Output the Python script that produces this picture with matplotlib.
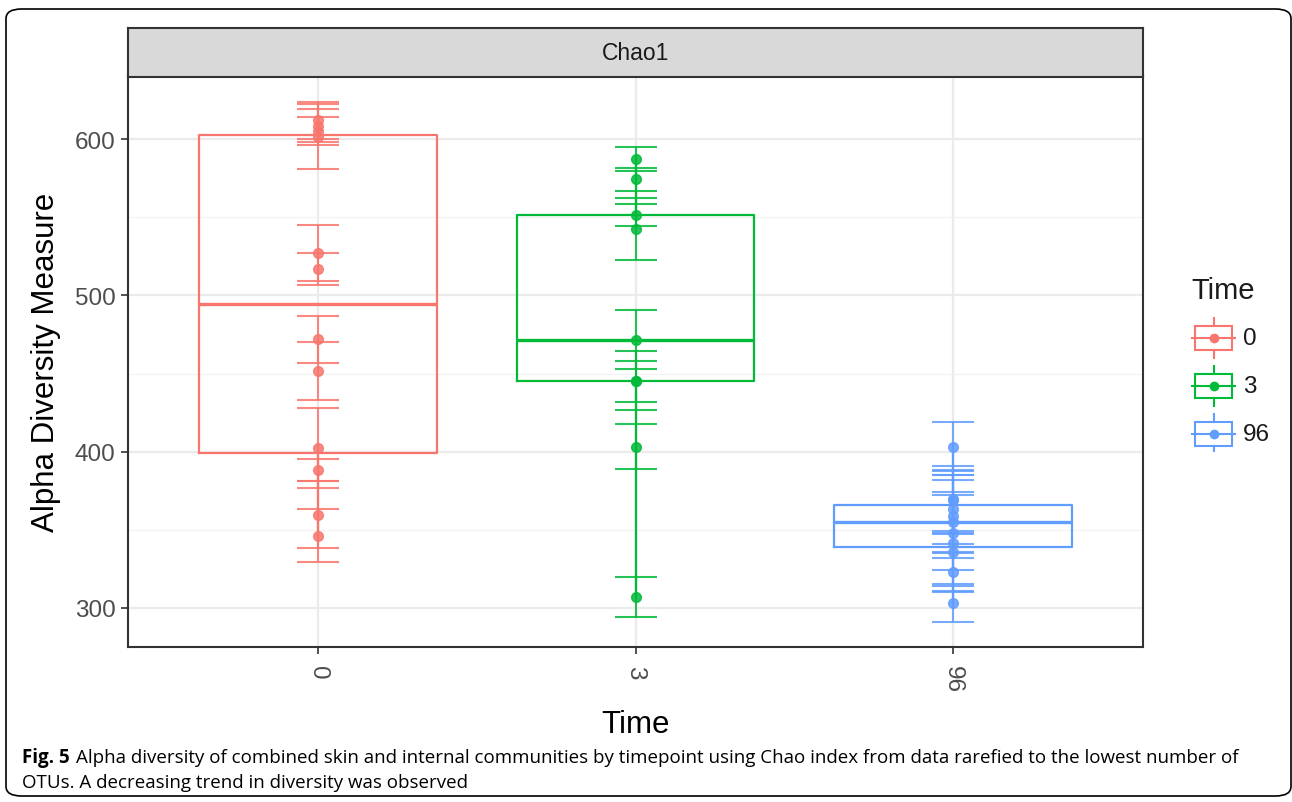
import numpy as np
import matplotlib
matplotlib.use('Agg')
import matplotlib.pyplot as plt
from matplotlib.patches import FancyBboxPatch, Rectangle
from matplotlib.lines import Line2D

plt.rcParams['font.family'] = ['Liberation Sans', 'DejaVu Sans']

# Chao1 estimates per sample and their standard errors, by timepoint
times = ['0', '3', '96']
chao_t0 = [346.3, 359.7, 388.5, 402.5, 451.5, 472.0, 517.0, 527.3, 601.6, 605.0, 608.5, 612.0]
se_t0 = [17.0, 21.3, 7.0, 25.6, 18.5, 15.0, 10.3, 17.9, 20.8, 9.0, 10.5, 12.0]
chao_t3 = [307.0, 403.0, 445.0, 445.5, 471.6, 542.7, 551.3, 574.2, 587.4]
se_t3 = [12.6, 14.4, 13.3, 18.7, 19.0, 19.9, 7.2, 7.5, 7.8]
chao_t96 = [303.2, 322.9, 336.0, 341.5, 348.0, 354.8, 359.0, 363.0, 368.8, 369.5, 403.2]
se_t96 = [12.0, 9.0, 11.5, 31.0, 37.0, 19.5, 23.0, 22.0, 19.5, 21.5, 15.5]

values = [chao_t0, chao_t3, chao_t96]
errors = [se_t0, se_t3, se_t96]
colors = ['#F8766D', '#00BA38', '#619CFF']

fig = plt.figure(figsize=(12.92, 8.03), dpi=100)

# journal figure frame
frame = FancyBboxPatch((6 / 1292, 6 / 803), 1285 / 1292, 787 / 803,
                       boxstyle='round,pad=0,rounding_size=0.012',
                       transform=fig.transFigure, fill=False,
                       edgecolor='black', linewidth=1.2)
fig.patches.append(frame)

ax = fig.add_axes([128 / 1292, 155 / 803, 1015 / 1292, 572 / 803])

pos = np.arange(1, len(times) + 1)
for i, (v, e, c) in enumerate(zip(values, errors, colors)):
    x = np.full(len(v), pos[i])
    ax.errorbar(x, v, yerr=e, fmt='o', color=c, ecolor=c, elinewidth=1.5,
                capsize=15, capthick=1.5, markersize=7, alpha=0.85, zorder=3)
    ax.boxplot([v], positions=[pos[i]], widths=0.75, whis=1.5,
               showcaps=False, showfliers=False, patch_artist=False,
               boxprops=dict(color=c, linewidth=1.6),
               whiskerprops=dict(color=c, linewidth=1.6),
               medianprops=dict(color=c, linewidth=2.4),
               manage_ticks=False, zorder=4)

ax.set_xlim(0.4, 3.6)
ax.set_ylim(275, 641)
ax.set_xticks(pos)
ax.set_xticklabels(times, rotation=-90)
ax.set_yticks([300, 400, 500, 600])
ax.set_yticks([350, 450, 550], minor=True)
ax.grid(True, which='major', color='#EBEBEB', linewidth=1.6, zorder=0)
ax.grid(True, which='minor', axis='y', color='#F2F2F2', linewidth=0.9, zorder=0)
ax.set_axisbelow(True)
ax.tick_params(axis='both', which='major', length=5, width=1.2, color='#333333',
               labelsize=17.5, labelcolor='#4D4D4D', pad=4)
ax.tick_params(axis='x', which='major', pad=8)
ax.tick_params(axis='y', which='minor', length=0)
for s in ax.spines.values():
    s.set_color('#333333')
    s.set_linewidth(1.5)
ax.set_ylabel('Alpha Diversity Measure', fontsize=22.5, labelpad=10)
ax.set_xlabel('Time', fontsize=22.5, labelpad=12)

# facet strip
strip = fig.add_axes([128 / 1292, 725 / 803, 1015 / 1292, 49 / 803])
strip.set_facecolor('#D9D9D9')
strip.set_xticks([])
strip.set_yticks([])
for s in strip.spines.values():
    s.set_color('#333333')
    s.set_linewidth(1.5)
strip.text(0.5, 0.5, 'Chao1', ha='center', va='center', fontsize=16.5,
           color='#1A1A1A', transform=strip.transAxes)

# legend drawn as ggplot-style keys
lg = fig.add_axes([1160 / 1292, 350 / 803, 130 / 1292, 180 / 803])
lg.set_xlim(0, 130)
lg.set_ylim(180, 0)
lg.axis('off')
lg.text(31, 18, 'Time', fontsize=21, va='center', ha='left', color='#1A1A1A')
for k, (t, c) in enumerate(zip(times, colors)):
    yc = 66 + k * 48
    lg.add_patch(Rectangle((35, yc - 12), 37, 24, fill=False, edgecolor=c, linewidth=1.5))
    lg.add_line(Line2D([53.5, 53.5], [yc - 20, yc - 12], color=c, linewidth=1.5))
    lg.add_line(Line2D([53.5, 53.5], [yc + 12, yc + 20], color=c, linewidth=1.5))
    lg.add_line(Line2D([32, 75], [yc, yc], color=c, linewidth=1.5))
    lg.plot([53.5], [yc], 'o', color=c, markersize=6)
    lg.text(83, yc, t, fontsize=17.5, va='center', ha='left', color='#1A1A1A')

# caption: bold label then the rest placed right after it
cap_y = 1 - 758 / 803
lab = fig.text(22 / 1292, cap_y, 'Fig. 5', fontsize=13.5, va='center',
               family='Open Sans', weight='bold')
fig.canvas.draw()
bb = lab.get_window_extent()
fig.text((bb.x1 + 6) / 1292, cap_y,
         'Alpha diversity of combined skin and internal communities by timepoint using Chao index from data rarefied to the lowest number of',
         fontsize=13.5, va='center', family='Open Sans')
fig.text(22 / 1292, 1 - 783 / 803, 'OTUs. A decreasing trend in diversity was observed',
         fontsize=13.5, va='center', family='Open Sans')

fig.savefig('out.png', dpi=100)
